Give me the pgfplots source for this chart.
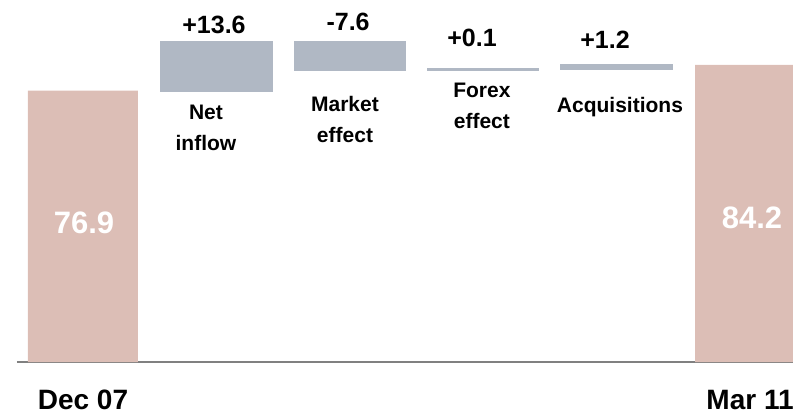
\documentclass[border=0pt]{standalone}
\usepackage{pgfplots}
\pgfplotsset{compat=1.18}
\usepackage{fontspec}
\setmainfont{Liberation Sans}
\definecolor{barPink}{RGB}{220,190,182}
\definecolor{barGray}{RGB}{176,184,196}
\begin{document}
\begin{tikzpicture}
\begin{axis}[
  x=66.7pt, y=1.765pt,
  xmin=-0.495, xmax=5.322, ymin=0, ymax=102.55,
  ybar stacked, bar width=55pt,
  axis x line=bottom, axis y line=none,
  axis line style={line width=1pt, color=gray, -},
  xtick={0,5}, xticklabels={Dec 07, Mar 11},
  major tick length=0pt,
  xticklabel style={anchor=base, yshift=-23.5pt, font=\fontsize{14}{16}\selectfont\bfseries},
  ytick=\empty,
]
\addplot[fill=none, draw=none] coordinates {(0,0) (1,76.9) (2,82.9) (3,82.9) (4,83.0) (5,0)};
\addplot[fill=barGray, draw=barGray, line width=1.2pt] coordinates {(0,0) (1,13.6) (2,7.6) (3,0.1) (4,1.2) (5,0)};
\addplot[fill=barPink, draw=none] coordinates {(0,76.9) (1,0) (2,0) (3,0) (4,0) (5,84.2)};

\coordinate (v0) at (axis cs:0.0075,39.4);
\coordinate (v5) at (axis cs:5.015,40.8);
\coordinate (d1) at (axis cs:0.982,95.5);
\coordinate (d2) at (axis cs:1.987,96.4);
\coordinate (d3) at (axis cs:2.916,91.8);
\coordinate (d4) at (axis cs:3.913,91.2);
\coordinate (c1) at (axis cs:0.922,66.4);
\coordinate (c2) at (axis cs:1.964,68.8);
\coordinate (c3) at (axis cs:2.99,72.5);
\coordinate (c4) at (axis cs:4.025,72.2);

\coordinate (bbll) at (axis cs:-0.622,-14.45);
\coordinate (bbur) at (axis cs:5.322,102.55);
\end{axis}
\node[font=\fontsize{15.5}{18}\selectfont\bfseries, text=white] at (v0) {76.9};
\node[font=\fontsize{15.5}{18}\selectfont\bfseries, text=white] at (v5) {84.2};
\node[font=\fontsize{12.5}{15}\selectfont\bfseries] at (d1) {+13.6};
\node[font=\fontsize{12.5}{15}\selectfont\bfseries] at (d2) {-7.6};
\node[font=\fontsize{12.5}{15}\selectfont\bfseries] at (d3) {+0.1};
\node[font=\fontsize{12.5}{15}\selectfont\bfseries] at (d4) {+1.2};
\node[font=\fontsize{10.5}{15.5}\selectfont\bfseries, align=center] at (c1) {Net\\inflow};
\node[font=\fontsize{10.5}{15.5}\selectfont\bfseries, align=center] at (c2) {Market\\effect};
\node[font=\fontsize{10.5}{15.5}\selectfont\bfseries, align=center] at (c3) {Forex\\effect};
\node[font=\fontsize{10.5}{15.5}\selectfont\bfseries] at (c4) {Acquisitions};
\pgfresetboundingbox
\useasboundingbox (bbll) rectangle (bbur);
\end{tikzpicture}
\end{document}
